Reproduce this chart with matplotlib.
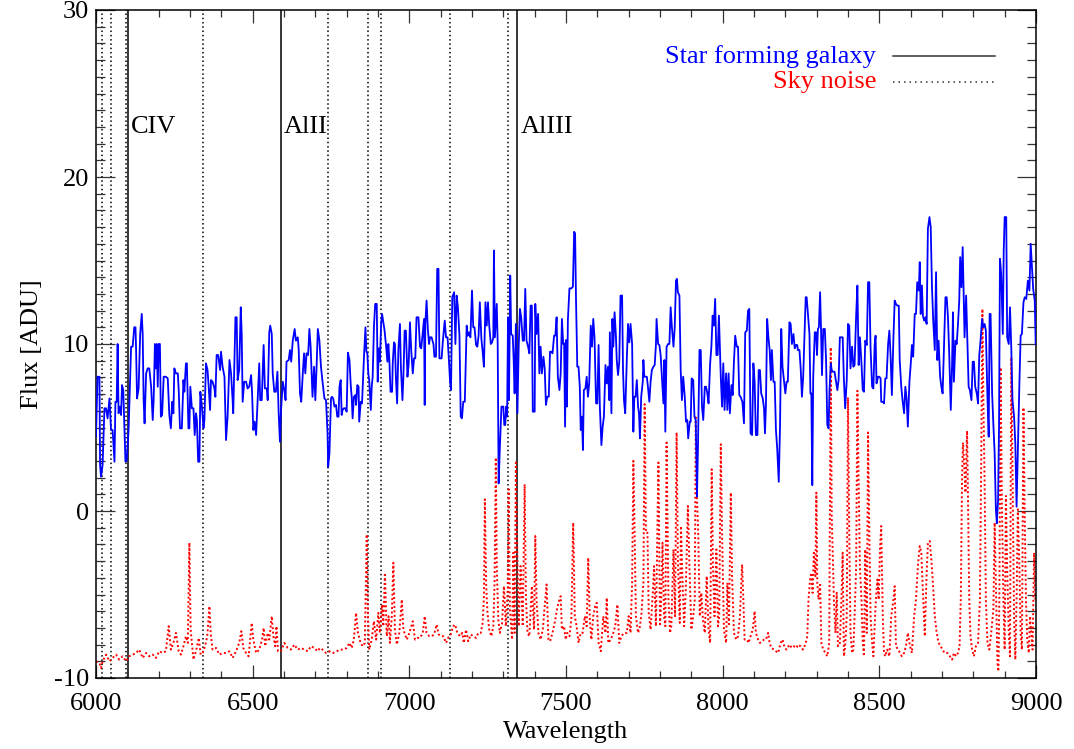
import matplotlib
matplotlib.use("Agg")
import matplotlib.pyplot as plt
from matplotlib.ticker import MultipleLocator

plt.rcParams['font.family'] = ['Liberation Serif', 'DejaVu Serif']
plt.rcParams['axes.unicode_minus'] = False

# ---- Star forming galaxy spectrum (wavelength, flux) ----
galaxy_6000_6750 = [
    (6000,4.45),(6005,8.04),(6011,8.04),(6013,2.75),(6016,2.05),(6021,2.75),(6027,6.15),(6032,6.15),(6037,5.55),(6043,6.74),
    (6048,4.85),(6053,4.85),(6059,2.95),(6062,6.54),(6066,6.54),(6069,10.0),(6072,5.85),(6077,6.25),(6080,5.75),(6083,7.54),
    (6087,7.24),(6090,5.45),(6094,2.95),(6098,3.05),(6104,4.85),(6112,9.84),(6117,9.84),(6122,11.0),(6126,11.0),(6128,9.64),
    (6131,6.74),(6136,7.34),(6141,10.6),(6146,11.8),(6149,10.6),(6152,6.64),(6155,5.25),(6160,8.24),(6165,8.54),(6170,8.54),
    (6176,7.44),(6181,5.45),(6184,6.64),(6188,10.0),(6191,8.54),(6194,10.0),(6197,7.44),(6200,10.0),(6204,10.0),(6207,5.65),
    (6211,5.75),(6216,8.04),(6223,8.04),(6229,7.94),(6234,5.75),(6239,4.95),(6243,6.54),(6247,5.85),(6250,8.54),(6255,8.24),
    (6261,8.24),(6264,7.24),(6268,4.95),(6274,4.95),(6279,7.84),(6282,7.14),(6287,8.84),(6290,8.84),(6295,4.95),(6298,4.95),
    (6301,7.44),(6306,6.15),(6311,6.15),(6315,4.55),(6319,5.85),(6322,5.45),(6326,2.95),(6330,2.95),(6333,7.14),(6338,6.25),
    (6343,4.95),(6346,5.45),(6351,8.84),(6356,8.44),(6360,7.34),(6364,6.05),(6367,7.84),(6372,7.74),(6378,7.34),(6381,6.84),
    (6385,9.34),(6390,9.34),(6396,8.44),(6399,9.54),(6404,8.64),(6410,8.04),(6415,4.25),(6420,5.65),(6426,9.04),(6431,8.24),
    (6436,6.64),(6438,5.85),(6445,11.6),(6449,11.6),(6452,7.84),(6457,8.44),(6462,12.2),(6465,10.6),(6468,6.54),(6473,7.74),
    (6479,7.74),(6484,7.34),(6489,7.44),(6495,8.14),(6498,7.14),(6502,4.85),(6506,5.35),(6511,4.55),(6516,6.64),(6521,8.84),
    (6524,6.64),(6529,6.64),(6535,9.94),(6539,7.34),(6545,7.34),(6548,6.64),(6553,10.7),(6556,11.1),(6561,10.6),(6564,8.24),
    (6569,7.14),(6574,7.14),(6579,8.34),(6583,5.85),(6587,4.15),(6590,5.85),(6596,7.74),(6601,7.24),(6605,6.64),(6608,8.94),
    (6615,9.04),(6619,9.64),(6623,8.94),(6628,10.2),(6634,10.9),(6638,10.2),(6644,10.4),(6647,9.64),(6651,7.04),(6655,6.54),
    (6660,8.24),(6664,9.44),(6668,8.24),(6672,9.44),(6677,9.34),(6681,10.9),(6685,9.84),(6691,6.84),(6696,8.64),(6700,6.64),
    (6704,8.64),(6708,10.9),(6713,10.2),(6718,8.64),(6723,7.74),(6729,6.74),(6734,6.64),(6739,4.65),(6741,2.65),(6745,3.45),
    (6750,6.74),(6753,6.84)]

galaxy_6750_7490 = [
    (6757,6.74),(6761,6.25),(6766,6.35),(6770,5.65),(6774,5.65),(6777,7.44),(6781,7.84),(6784,5.75),(6787,6.05),(6791,6.15),
    (6796,6.15),(6800,5.95),(6804,9.48),(6809,9.04),(6813,7.54),(6816,6.84),(6819,5.55),(6823,6.84),(6828,6.94),(6830,6.35),
    (6834,7.54),(6838,7.44),(6840,5.35),(6845,6.54),(6849,6.44),(6853,8.24),(6856,9.54),(6860,11.0),(6863,9.54),(6866,9.44),
    (6869,8.24),(6872,7.84),(6877,6.05),(6880,7.44),(6883,8.04),(6887,11.0),(6891,12.4),(6896,12.4),(6899,7.74),(6903,9.74),
    (6906,8.94),(6910,11.2),(6913,11.8),(6917,11.3),(6921,10.8),(6926,9.84),(6930,8.94),(6933,10.0),(6936,9.14),(6940,7.14),
    (6945,7.14),(6947,8.84),(6951,10.1),(6954,10.0),(6957,8.04),(6961,6.44),(6965,9.64),(6970,11.2),(6973,8.64),(6978,6.64),
    (6981,8.04),(6985,10.8),(6989,10.8),(6994,8.04),(6998,8.84),(7002,11.3),(7006,9.64),(7011,8.24),(7015,9.14),(7019,9.14),
    (7023,11.6),(7029,11.6),(7034,9.84),(7038,9.74),(7043,10.7),(7047,11.5),(7049,6.35),(7051,11.2),(7055,12.6),(7059,10.9),
    (7063,10.0),(7066,10.4),(7071,10.4),(7077,10.0),(7080,9.24),(7085,9.24),(7089,14.5),(7093,14.5),(7096,9.14),(7103,9.14),
    (7108,10.4),(7113,11.4),(7117,10.4),(7122,10.4),(7126,9.14),(7130,7.74),(7133,7.24),(7137,12.8),(7143,13.1),(7147,10.0),
    (7151,12.9),(7155,12.2),(7160,10.5),(7164,5.65),(7168,5.55),(7172,6.54),(7177,6.54),(7180,8.94),(7183,11.1),(7186,10.5),
    (7190,10.7),(7195,10.4),(7200,13.2),(7204,11.0),(7208,11.0),(7213,9.94),(7217,9.84),(7221,10.5),(7225,12.5),(7230,10.3),
    (7234,9.54),(7238,8.64),(7243,12.5),(7247,11.1),(7251,12.5),(7255,11.1),(7260,10.0),(7264,10.1),(7268,10.4),(7270,15.6),
    (7273,10.4),(7279,12.4),(7282,10.0),(7285,1.65),(7289,3.85),(7294,6.25),(7300,6.25),(7303,5.15),(7306,5.15),(7309,6.25),
    (7312,5.65),(7315,11.6),(7318,6.64),(7322,14.1),(7325,10.6),(7330,10.5),(7333,9.04),(7336,7.04),(7340,11.2),(7345,5.85),
    (7349,9.84),(7353,12.1),(7357,11.6),(7362,10.2),(7366,10.2),(7370,13.3),(7374,10.2),(7379,9.84),(7383,9.44),(7387,12.3),
    (7391,12.3),(7394,5.95),(7400,5.95),(7402,12.4),(7406,10.6),(7411,11.8),(7415,8.24),(7419,9.84),(7423,8.24),(7428,9.24),
    (7432,8.54),(7436,6.35),(7440,6.84),(7445,6.84),(7449,9.54),(7453,9.54),(7457,9.44),(7462,10.5),(7466,10.5),(7470,11.6),
    (7474,8.04),(7479,7.24),(7483,8.24),(7487,11.5),(7491,10.0)]

galaxy_7490_8240 = [
    (7494,10.04),(7497,5.05),(7500,10.24),(7503,6.25),(7506,11.43),(7511,13.33),(7517,13.33),(7522,13.43),(7526,16.72),(7529,16.62),
    (7532,12.63),(7536,8.64),(7540,8.64),(7544,7.44),(7547,4.85),(7551,5.65),(7554,3.65),(7557,7.24),(7562,7.34),(7566,8.04),
    (7570,6.84),(7574,7.64),(7579,11.1),(7583,9.84),(7587,11.5),(7591,10.4),(7596,6.44),(7600,6.44),(7604,9.94),(7608,6.25),
    (7613,3.95),(7617,5.05),(7621,5.65),(7626,8.74),(7630,7.64),(7634,8.64),(7638,6.64),(7640,10.7),(7645,5.85),(7648,11.5),
    (7651,9.84),(7655,11.9),(7659,10.6),(7662,9.04),(7666,8.14),(7670,8.94),(7674,12.9),(7679,12.9),(7682,8.44),(7685,6.64),
    (7689,5.85),(7694,9.04),(7698,11.2),(7702,10.1),(7706,11.2),(7711,10.0),(7715,4.75),(7718,6.84),(7722,6.84),(7726,7.84),
    (7730,6.25),(7733,5.85),(7736,4.35),(7740,6.84),(7745,7.74),(7747,9.04),(7750,8.04),(7754,8.04),(7758,8.04),(7762,7.34),
    (7766,6.54),(7770,7.74),(7774,8.44),(7779,8.64),(7783,8.74),(7787,9.94),(7789,11.5),(7794,10.0),(7798,9.94),(7802,9.34),
    (7806,8.04),(7811,6.44),(7814,9.04),(7817,4.75),(7821,9.84),(7826,10.0),(7830,10.0),(7834,12.2),(7838,11.0),(7843,9.84),
    (7847,11.0),(7851,13.8),(7854,13.9),(7857,13.1),(7862,12.9),(7866,8.44),(7870,6.64),(7874,8.04),(7879,6.84),(7883,5.35),
    (7887,5.45),(7890,4.35),(7895,5.35),(7898,5.35),(7901,7.94),(7906,7.84),(7910,5.65),(7914,5.45),(7918,0.86),(7921,3.65),
    (7926,9.64),(7930,9.64),(7934,6.25),(7938,5.45),(7943,7.44),(7947,7.44),(7951,7.04),(7955,6.44),(7960,8.84),(7964,9.84),
    (7968,11.7),(7972,11.1),(7976,12.7),(7980,9.34),(7984,9.34),(7988,11.7),(7994,8.04),(7998,6.25),(8002,8.84),(8006,6.05),
    (8011,8.24),(8015,6.05),(8019,8.24),(8023,5.85),(8028,7.54),(8032,6.94),(8036,8.94),(8040,10.5),(8045,9.84),(8049,9.84),
    (8053,6.94),(8057,6.84),(8063,6.54),(8068,5.25),(8072,10.7),(8077,10.8),(8081,12.0),(8085,12.1),(8089,4.65),(8094,4.55),
    (8098,8.84),(8102,7.74),(8106,4.55),(8111,4.55),(8115,8.44),(8119,8.44),(8123,7.04),(8128,6.74),(8132,6.15),(8135,4.65),
    (8138,6.25),(8142,11.5),(8146,10.4),(8150,9.64),(8154,7.84),(8157,9.64),(8162,7.74),(8166,7.74),(8170,4.85),(8174,3.75),
    (8179,1.75),(8183,5.05),(8187,10.9),(8191,8.64),(8196,7.74),(8200,7.04),(8204,7.74),(8208,7.74),(8213,11.3),(8217,11.2),
    (8221,10.0),(8226,10.6),(8230,9.74),(8234,9.94),(8238,9.94)]

galaxy_8240_9000 = [
    (8240,9.64),(8245,9.64),(8249,8.54),(8253,6.84),(8257,8.04),(8262,10.9),(8265,12.8),(8268,12.8),(8272,11.8),(8277,10.6),
    (8280,7.04),(8283,7.04),(8286,1.55),(8289,8.04),(8294,10.7),(8298,10.7),(8301,9.34),(8304,10.9),(8307,11.0),(8311,13.1),
    (8314,10.8),(8317,8.14),(8321,10.9),(8326,10.9),(8330,9.04),(8334,5.15),(8338,4.95),(8341,7.24),(8345,8.84),(8348,8.44),
    (8351,8.34),(8357,8.34),(8362,7.74),(8366,7.24),(8370,7.84),(8374,10.4),(8379,10.4),(8383,10.4),(8387,7.84),(8391,6.15),
    (8396,7.84),(8400,11.2),(8404,11.1),(8408,8.54),(8413,9.84),(8417,8.64),(8421,8.74),(8426,11.7),(8430,13.5),(8434,8.74),
    (8438,10.4),(8443,8.84),(8447,7.24),(8451,7.14),(8455,10.2),(8460,9.94),(8464,13.7),(8468,13.7),(8472,9.74),(8477,7.44),
    (8481,7.34),(8485,9.94),(8488,10.5),(8491,7.64),(8496,8.04),(8500,8.04),(8504,7.94),(8506,6.54),(8511,6.54),(8515,6.44),
    (8519,7.94),(8523,7.94),(8528,10.0),(8532,10.8),(8536,9.24),(8540,6.94),(8545,10.4),(8549,12.6),(8553,12.4),(8557,12.3),
    (8562,12.3),(8565,9.04),(8570,7.44),(8574,6.64),(8579,5.85),(8583,7.44),(8587,6.74),(8591,5.05),(8596,7.74),(8600,8.74),
    (8604,9.94),(8608,9.24),(8613,11.8),(8617,11.8),(8621,13.7),(8626,13.2),(8629,14.9),(8632,11.8),(8636,13.5),(8639,11.7),
    (8643,11.4),(8647,11.6),(8651,11.2),(8655,16.9),(8660,17.6),(8664,17.0),(8668,13.4),(8672,11.4),(8677,9.64),(8681,14.3),
    (8685,9.04),(8689,10.2),(8694,8.04),(8698,7.44),(8702,7.04),(8706,9.64),(8711,12.8),(8715,12.8),(8719,11.6),(8723,9.44),
    (8728,6.05),(8732,8.64),(8735,11.9),(8738,7.74),(8743,10.2),(8747,10.0),(8751,11.2),(8755,12.6),(8758,15.2),(8762,13.4),
    (8766,15.8),(8769,13.0),(8772,10.4),(8777,12.9),(8781,10.2),(8785,7.44),(8789,7.24),(8794,6.64),(8798,8.94),(8802,8.94),
    (8806,7.44),(8811,7.04),(8815,6.44),(8819,9.34),(8823,10.2),(8828,11.5),(8832,11.0),(8836,11.2),(8840,10.8),(8845,6.84),
    (8849,4.45),(8852,11.8),(8855,11.8),(8860,7.04),(8864,5.15),(8868,3.45),(8872,0.06),(8875,-0.74),(8879,0.66),(8882,5.05),
    (8885,15.1),(8889,14.2),(8894,10.6),(8897,15.6),(8900,17.6),(8905,17.6),(8908,10.4),(8913,10.0),(8917,12.2),(8921,9.84),
    (8925,6.64),(8930,5.65),(8934,4.05),(8938,0.26),(8942,3.65),(8947,7.64),(8951,10.5),(8955,10.6),(8960,12.5),(8964,12.8),
    (8969,12.7),(8974,13.8),(8979,13.2),(8983,16.0),(8987,14.6),(8991,13.3),(8996,12.6),(8999,10.0)]

# ---- Sky noise spectrum (wavelength, flux) ----
sky_6000_6750 = [
    (6000,-9.0),(6011,-9.1),(6016,-9.4),(6021,-9.0),(6032,-8.6),(6043,-9.0),(6053,-8.8),(6064,-8.6),(6074,-8.9),(6085,-8.7),
    (6096,-9.0),(6106,-8.7),(6117,-8.6),(6128,-8.5),(6138,-8.3),(6149,-8.8),(6160,-8.5),(6170,-8.7),(6181,-8.6),(6191,-8.8),
    (6202,-8.4),(6213,-8.5),(6223,-8.4),(6232,-6.9),(6239,-8.3),(6247,-7.9),(6255,-7.3),(6264,-8.4),(6271,-8.6),(6279,-8.1),
    (6287,-7.5),(6293,-7.9),(6298,-1.9),(6302,-7.1),(6306,-7.9),(6311,-8.9),(6319,-8.4),(6328,-7.6),(6334,-8.6),(6340,-8.5),
    (6348,-8.1),(6355,-7.5),(6362,-5.7),(6366,-7.3),(6372,-8.3),(6383,-8.2),(6394,-8.6),(6404,-8.5),(6415,-8.5),(6426,-8.4),
    (6436,-8.8),(6447,-8.4),(6457,-7.9),(6464,-7.2),(6470,-8.2),(6479,-8.5),(6487,-8.7),(6497,-6.7),(6502,-7.7),(6511,-8.5),
    (6521,-8.3),(6530,-7.7),(6535,-7.0),(6540,-8.1),(6548,-7.3),(6553,-7.7),(6561,-6.3),(6566,-7.5),(6572,-8.1),(6576,-6.9),
    (6581,-8.4),(6590,-8.4),(6601,-7.9),(6612,-8.2),(6622,-8.3),(6633,-8.0),(6644,-8.3),(6654,-8.2),(6665,-8.3),(6676,-8.4),
    (6686,-8.1),(6697,-8.2),(6707,-8.4),(6715,-8.2),(6723,-8.3),(6734,-8.5),(6745,-8.4),(6753,-8.5)]

sky_6750_7490 = [
    (6757,-8.5),(6768,-8.4),(6779,-8.3),(6789,-8.3),(6800,-8.2),(6809,-7.9),(6816,-8.2),(6823,-7.7),(6830,-6.1),(6836,-7.3),
    (6843,-7.8),(6851,-8.1),(6858,-7.9),(6864,-1.4),(6868,-6.3),(6872,-8.3),(6880,-7.7),(6887,-6.6),(6894,-7.7),(6901,-6.1),
    (6906,-7.3),(6913,-5.6),(6917,-6.9),(6922,-3.7),(6928,-7.5),(6934,-6.3),(6938,-7.9),(6944,-6.3),(6949,-3.1),(6954,-7.1),
    (6960,-8.0),(6968,-7.3),(6976,-5.3),(6981,-7.1),(6992,-7.7),(7000,-7.3),(7011,-6.6),(7018,-7.7),(7026,-7.6),(7034,-7.6),
    (7043,-7.3),(7049,-6.3),(7055,-7.3),(7064,-7.5),(7071,-7.5),(7079,-7.4),(7087,-6.8),(7094,-7.4),(7101,-7.5),(7109,-7.5),
    (7117,-7.9),(7124,-7.6),(7132,-7.4),(7140,-6.9),(7146,-6.8),(7153,-7.3),(7162,-7.5),(7169,-7.3),(7174,-7.9),(7181,-7.1),
    (7188,-7.8),(7196,-7.4),(7204,-7.5),(7213,-7.6),(7220,-7.3),(7228,-7.3),(7234,-6.7),(7238,-5.2),(7241,0.7),(7245,-4.3),
    (7249,-6.0),(7255,-7.1),(7262,-7.5),(7268,-6.9),(7272,-4.3),(7276,3.2),(7279,-3.3),(7284,-6.5),(7289,-7.3),(7296,-6.7),
    (7302,-4.5),(7308,-6.9),(7314,-4.7),(7317,1.3),(7321,-5.9),(7328,-7.7),(7332,-2.5),(7336,-7.3),(7340,2.9),(7345,-2.9),
    (7349,-6.9),(7355,-3.3),(7362,-6.9),(7368,1.6),(7372,-5.1),(7377,-7.3),(7383,-7.5),(7391,-4.5),(7398,-7.1),(7402,-1.5),
    (7406,-5.3),(7412,-7.3),(7419,-7.7),(7426,-7.1),(7432,-5.7),(7438,-4.4),(7444,-7.7),(7449,-7.8),(7457,-7.3),(7466,-6.5),
    (7472,-5.8),(7479,-5.3),(7483,-5.1),(7487,-7.1)]

sky_7490_8240 = [
    (7494,-6.9),(7499,-7.7),(7504,-7.3),(7511,-7.5),(7517,-6.5),(7523,-0.7),(7528,-6.3),(7534,-6.9),(7540,-7.9),(7547,-7.3),
    (7553,-7.3),(7560,-6.3),(7566,-6.9),(7571,-2.8),(7576,-6.5),(7581,-7.7),(7587,-6.3),(7593,-5.7),(7598,-5.5),(7604,-7.9),
    (7611,-8.4),(7619,-6.3),(7626,-7.3),(7630,-5.2),(7635,-7.9),(7643,-7.7),(7651,-7.3),(7657,-6.9),(7664,-5.6),(7670,-7.9),
    (7677,-7.5),(7685,-7.3),(7694,-7.3),(7700,-6.3),(7706,-7.3),(7711,-4.3),(7715,3.0),(7719,-1.3),(7723,-6.3),(7730,-7.3),
    (7736,-6.9),(7741,-6.1),(7747,-4.3),(7751,6.4),(7755,-1.3),(7760,-1.3),(7764,-6.1),(7770,-7.1),(7777,-4.9),(7781,-3.3),
    (7787,-6.9),(7795,2.9),(7800,-6.9),(7804,-5.3),(7808,-1.9),(7813,-6.3),(7817,-6.9),(7821,4.1),(7827,-5.3),(7832,-7.3),
    (7836,-6.9),(7843,-2.3),(7848,-6.3),(7853,4.7),(7857,-2.9),(7863,-6.7),(7867,-0.9),(7871,-3.7),(7877,-6.9),(7882,-4.9),
    (7889,0.3),(7894,-3.3),(7900,-7.1),(7906,-6.3),(7911,-5.3),(7914,5.6),(7918,0.7),(7922,-1.3),(7927,-6.3),(7932,-4.9),
    (7937,-6.5),(7943,-7.3),(7949,-3.9),(7955,-7.1),(7960,-7.9),(7965,2.5),(7969,-3.3),(7974,-6.3),(7980,-2.3),(7985,-6.9),
    (7989,-6.3),(7994,4.0),(7998,-1.3),(8004,-7.1),(8011,-7.9),(8015,-4.3),(8020,-6.9),(8026,1.1),(8030,-3.9),(8036,-7.3),
    (8043,-7.7),(8049,-7.5),(8055,-6.3),(8062,-3.2),(8066,-5.3),(8070,-7.7),(8077,-7.7),(8083,-7.9),(8089,-7.5),(8096,-7.1),
    (8102,-6.0),(8106,-7.3),(8113,-7.7),(8119,-7.9),(8126,-7.8),(8132,-7.7),(8138,-7.7),(8145,-7.3),(8149,-7.8),(8155,-8.2),
    (8164,-8.3),(8170,-8.4),(8177,-8.5),(8185,-7.9),(8191,-7.7),(8198,-8.2),(8204,-8.3),(8213,-8.0),(8221,-8.2),(8228,-8.1),
    (8236,-8.2)]

sky_8240_9000 = [
    (8240,-8.0),(8249,-8.1),(8256,-8.3),(8264,-8.0),(8270,-7.5),(8274,-5.3),(8279,-4.1),(8283,-3.7),(8287,-4.9),(8291,-2.5),
    (8296,-3.9),(8299,1.1),(8302,-4.3),(8306,-5.3),(8311,-4.3),(8315,-7.9),(8321,-8.3),(8328,-8.5),(8334,-8.7),(8340,-7.9),
    (8345,9.8),(8348,-0.3),(8351,-2.3),(8355,-5.3),(8360,-7.3),(8364,-4.9),(8368,-8.1),(8374,-7.9),(8379,-5.3),(8383,-2.5),
    (8387,-8.7),(8391,-8.1),(8396,-6.3),(8400,6.8),(8404,-1.3),(8408,-7.3),(8413,-8.5),(8417,-8.3),(8421,-6.3),(8426,-3.3),
    (8430,7.2),(8434,1.7),(8438,-3.3),(8443,-5.3),(8447,-7.9),(8451,-8.7),(8455,-2.3),(8460,-7.3),(8464,4.7),(8468,-1.3),
    (8472,-6.3),(8477,-7.9),(8481,-8.7),(8485,-6.9),(8489,-5.3),(8494,-4.1),(8498,-5.3),(8502,-2.3),(8506,-0.9),(8511,-6.3),
    (8515,-8.5),(8519,-8.7),(8525,-8.3),(8532,-8.7),(8538,-6.3),(8545,-5.3),(8549,-4.5),(8553,-8.1),(8560,-8.3),(8566,-8.5),
    (8572,-8.7),(8579,-8.5),(8585,-8.1),(8591,-7.3),(8598,-8.1),(8604,-8.5),(8611,-6.3),(8617,-5.3),(8623,-3.3),(8629,-2.1),
    (8634,-2.5),(8640,-5.3),(8645,-7.5),(8650,-4.3),(8655,-1.9),(8661,-1.8),(8666,-2.9),(8671,-4.3),(8677,-6.3),(8683,-7.3),
    (8689,-7.9),(8696,-8.1),(8702,-8.3),(8708,-8.5),(8717,-8.5),(8725,-8.7),(8732,-8.9),(8738,-8.5),(8745,-8.7),(8751,-8.5),
    (8756,-8.1),(8760,-5.3),(8764,2.0),(8767,4.1),(8771,2.7),(8775,1.1),(8780,4.8),(8783,0.7),(8787,-5.3),(8791,-7.5),
    (8796,-8.3),(8802,-8.7),(8808,-8.1),(8815,-7.9),(8821,-5.3),(8825,2.7),(8829,12.1),(8832,6.6),(8836,1.7),(8840,-5.3),
    (8845,-7.9),(8851,-8.3),(8857,-7.3),(8864,-5.9),(8868,-0.7),(8872,-4.3),(8877,-9.1),(8880,-9.6),(8883,-5.3),(8887,8.6),
    (8891,0.7),(8896,-5.3),(8900,-8.3),(8904,0.9),(8908,-3.3),(8913,-7.3),(8917,-8.7),(8921,9.2),(8926,0.7),(8930,-6.3),
    (8934,-8.9),(8938,-5.3),(8942,0.1),(8947,-3.3),(8951,-7.3),(8955,-8.3),(8960,6.2),(8964,-0.3),(8968,-5.3),(8972,-7.7),
    (8977,-8.5),(8981,-6.3),(8985,-7.3),(8989,-8.3),(8994,-2.5),(8998,-5.3)]

# ---- Marked lines ----
solid_lines = [6102, 6590, 7345]
solid_labels = ['CIV', 'AlII', 'AlIII']
dotted_lines = [6018, 6048, 6095, 6342, 6741, 6869, 6910, 7131, 7315]
label_x = [6112, 6600, 7356]
label_y = 23.0

x_ticks = [6000, 6500, 7000, 7500, 8000, 8500, 9000]
y_ticks = [-10, 0, 10, 20, 30]

def unzip(*segments):
    xs, ys = [], []
    for seg in segments:
        for a, b in seg:
            xs.append(a)
            ys.append(b)
    return xs, ys

gx, gy = unzip(galaxy_6000_6750, galaxy_6750_7490, galaxy_7490_8240, galaxy_8240_9000)
sx, sy = unzip(sky_6000_6750, sky_6750_7490, sky_7490_8240, sky_8240_9000)

fig = plt.figure(figsize=(10.74, 7.49), dpi=100)
ax = fig.add_axes([96/1074, 1 - 678/749, 940/1074, 668/749])

for xv in dotted_lines:
    ax.axvline(xv, color='black', lw=1.1, dashes=(1.0, 1.8), zorder=1)
for xv in solid_lines:
    ax.axvline(xv, color='black', lw=1.1, zorder=1)

ax.plot(sx, sy, color='red', lw=1.4, dashes=(1.0, 1.3), zorder=2)
ax.plot(gx, gy, color='blue', lw=1.3, zorder=3)

for lab, lx in zip(solid_labels, label_x):
    ax.text(lx, label_y, lab, fontsize=19, ha='left', va='center', color='black')

# legend drawn like the original (text right, line sample to its right)
ax.text(0.830, 0.931, 'Star forming galaxy', color='blue', fontsize=19,
        ha='right', va='center', transform=ax.transAxes)
ax.text(0.830, 0.892, 'Sky noise', color='red', fontsize=19,
        ha='right', va='center', transform=ax.transAxes)
ax.plot([0.848, 0.956], [0.931, 0.931], color='#333333', lw=1.1, transform=ax.transAxes)
ax.plot([0.848, 0.956], [0.892, 0.892], color='#333333', lw=1.1, dashes=(1.0, 2.6),
        transform=ax.transAxes)

ax.set_xlim(6000, 9000)
ax.set_ylim(-10, 30)
ax.set_xticks(x_ticks)
ax.set_yticks(y_ticks)
ax.xaxis.set_minor_locator(MultipleLocator(100))
ax.yaxis.set_minor_locator(MultipleLocator(1))
ax.tick_params(axis='both', which='both', direction='in', top=True, right=True,
               labelsize=19, width=0.9, color='#333333')
ax.tick_params(axis='x', which='major', length=9.5, pad=11)
ax.tick_params(axis='x', which='minor', length=5)
ax.tick_params(axis='y', which='major', length=13.5, pad=5)
ax.tick_params(axis='y', which='minor', length=6.5)
for sp in ax.spines.values():
    sp.set_linewidth(1.1)

ax.set_xlabel('Wavelength', fontsize=19, labelpad=4)
ax.set_ylabel('Flux [ADU]', fontsize=19, labelpad=8)

fig.savefig('out.png', dpi=100)
